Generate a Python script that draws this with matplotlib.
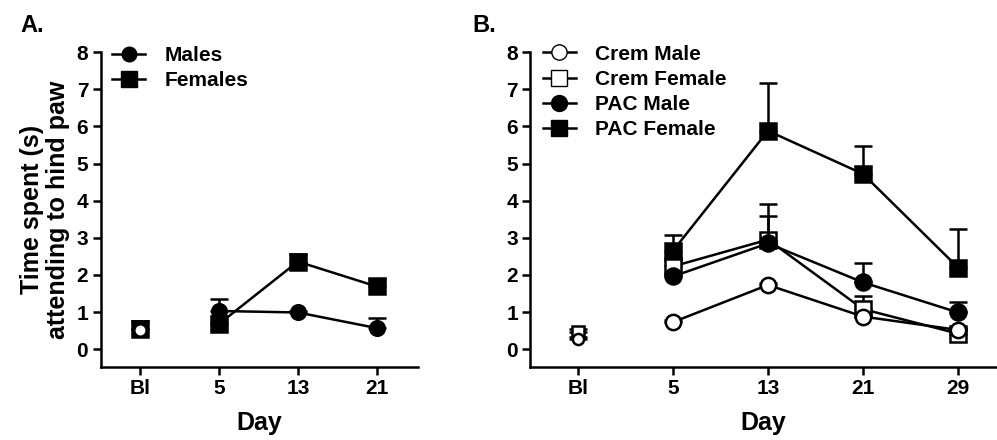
import numpy as np
import matplotlib
matplotlib.use("Agg")
import matplotlib.pyplot as plt
from matplotlib.lines import Line2D

plt.rcParams['font.family'] = ['Liberation Sans', 'DejaVu Sans']
plt.rcParams['font.weight'] = 'bold'
plt.rcParams['axes.labelweight'] = 'bold'

# panel A
days_a = ['Bl', '5', '13', '21']
males = [0.55, 1.03, 0.99, 0.57]
males_sem = [0.20, 0.33, 0.05, 0.28]
females = [0.55, 0.68, 2.36, 1.69]
females_sem = [0.22, 0.05, 0.21, 0.20]

# panel B
days_b = ['Bl', '5', '13', '21', '29']
crem_male = [0.28, 0.73, 1.73, 0.88, 0.52]
crem_male_sem = [0.05, 0.05, 0.06, 0.08, 0.05]
crem_female = [0.47, 2.23, 2.95, 1.08, 0.42]
crem_female_sem = [0.08, 0.17, 0.97, 0.34, 0.10]
pac_male = [np.nan, 1.96, 2.85, 1.80, 0.99]
pac_male_sem = [np.nan, 0.10, 0.75, 0.52, 0.29]
pac_female = [np.nan, 2.65, 5.88, 4.72, 2.20]
pac_female_sem = [np.nan, 0.43, 1.29, 0.76, 1.03]

LW = 1.8


def series(ax, x, y, sem, marker, filled, ms, z, ms0=None):
    x = np.asarray(x, dtype=float)
    y = np.asarray(y, dtype=float)
    sem = np.asarray(sem, dtype=float)
    fc = 'black' if filled else 'white'
    ax.errorbar(x, y, yerr=[np.zeros_like(sem), sem], fmt='none', ecolor='black',
                elinewidth=LW, capsize=6.5, capthick=LW, zorder=z, clip_on=False)
    ax.plot(x[1:], y[1:], color='black', lw=LW, zorder=z + 0.1, clip_on=False)
    ax.plot(x[1:], y[1:], linestyle='none', marker=marker, ms=ms, mfc=fc, mec='black',
            mew=LW, zorder=z + 0.2, clip_on=False)
    # baseline point, not joined to the time course
    ax.plot(x[:1], y[:1], linestyle='none', marker=marker, ms=ms0 or ms, mfc=fc,
            mec='black', mew=LW, zorder=z + 0.2, clip_on=False)


def style(ax, labels, xmax):
    ax.set_xlim(-0.5, xmax)
    ax.set_ylim(-0.47, 8)
    ax.set_xticks(range(len(labels)))
    ax.set_xticklabels(labels)
    ax.set_yticks(range(0, 9))
    for s in ['top', 'right']:
        ax.spines[s].set_visible(False)
    for s in ['left', 'bottom']:
        ax.spines[s].set_linewidth(LW)
    ax.tick_params(direction='out', length=6, width=LW, labelsize=15, pad=3)
    ax.set_xlabel('Day', fontsize=18, labelpad=9)


fig = plt.figure(figsize=(9.97, 4.40), dpi=100)
axA = fig.add_axes([0.101, 0.1666, 0.318, 0.715])
axB = fig.add_axes([0.532, 0.1666, 0.468, 0.715])

xa = np.arange(len(days_a))
series(axA, xa, males, males_sem, 'o', True, 10.5, 3)
series(axA, xa, females, females_sem, 's', True, 11.5, 4)
# open circle seen inside the baseline square
axA.plot(xa[0], males[0] - 0.03, 'o', ms=8.5, mfc='white', mec='black', mew=1.4, zorder=5)
style(axA, days_a, 3.52)
axA.set_ylabel('Time spent (s)\nattending to hind paw', fontsize=18, labelpad=5,
               linespacing=1.1)

hA = [Line2D([], [], color='black', lw=LW, marker='o', ms=10.5, mfc='black', mec='black'),
      Line2D([], [], color='black', lw=LW, marker='s', ms=11.5, mfc='black', mec='black')]
axA.legend(hA, ['Males', 'Females'], loc='upper left', bbox_to_anchor=(-0.01, 1.065),
           frameon=False, fontsize=15, handlelength=1.6, handletextpad=0.9,
           labelspacing=0.3, borderaxespad=0.3)

xb = np.arange(len(days_b))
series(axB, xb, crem_female, crem_female_sem, 's', False, 11.5, 3, ms0=8)
series(axB, xb, crem_male, crem_male_sem, 'o', False, 11, 4, ms0=8)
series(axB, xb, pac_male, pac_male_sem, 'o', True, 11.5, 5)
series(axB, xb, pac_female, pac_female_sem, 's', True, 12, 6)
style(axB, days_b, 4.41)

hB = [Line2D([], [], color='black', lw=LW, marker='o', ms=11, mfc='white', mec='black'),
      Line2D([], [], color='black', lw=LW, marker='s', ms=11.5, mfc='white', mec='black'),
      Line2D([], [], color='black', lw=LW, marker='o', ms=11.5, mfc='black', mec='black'),
      Line2D([], [], color='black', lw=LW, marker='s', ms=12, mfc='black', mec='black')]
axB.legend(hB, ['Crem Male', 'Crem Female', 'PAC Male', 'PAC Female'], loc='upper left',
           bbox_to_anchor=(-0.005, 1.07), frameon=False, fontsize=15, handlelength=1.6,
           handletextpad=0.9, labelspacing=0.3, borderaxespad=0.3)

fig.text(0.020, 0.927, 'A.', fontsize=17, fontweight='bold', va='baseline')
fig.text(0.474, 0.927, 'B.', fontsize=17, fontweight='bold', va='baseline')

fig.savefig('out.png', dpi=100)
